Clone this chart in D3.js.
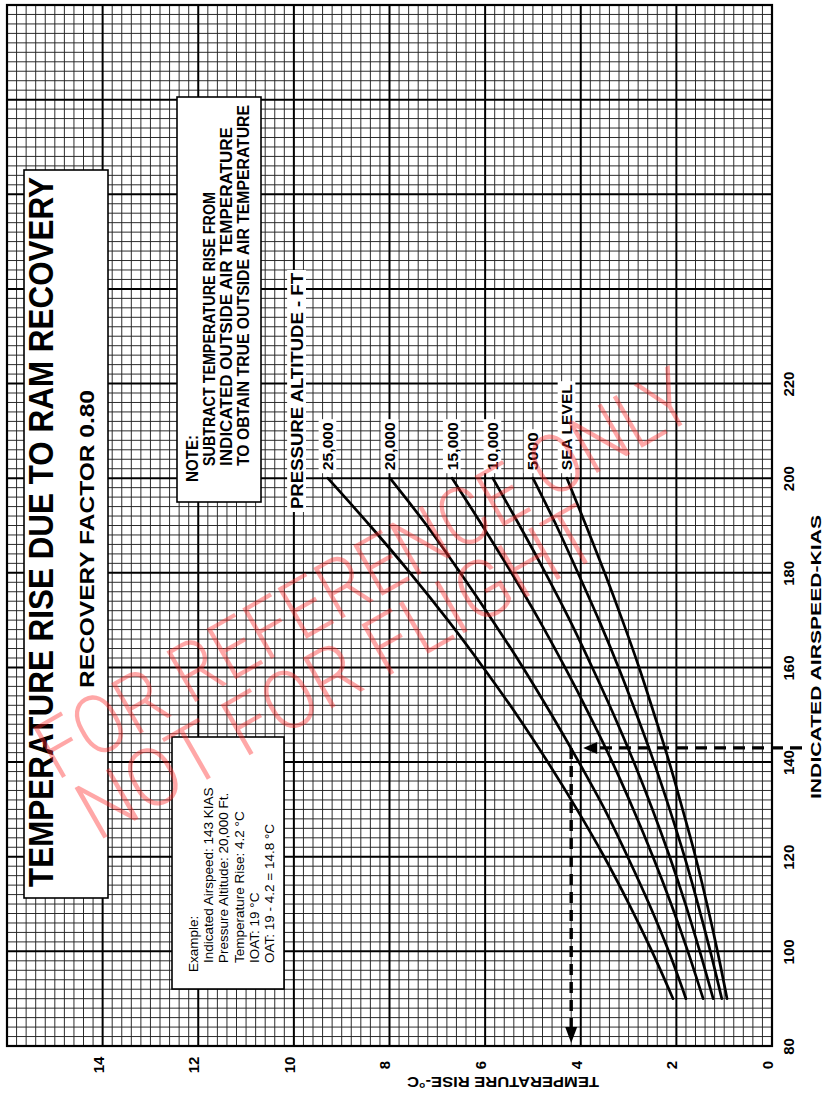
<!DOCTYPE html>
<html>
<head>
<meta charset="utf-8">
<script src="https://cdn.jsdelivr.net/npm/d3@7"></script>
<style>
  html, body { margin: 0; padding: 0; background: #fff; }
  svg { display: block; }
</style>
</head>
<body>
<svg id="chart" width="830" height="1097"></svg>
<script>
// Indicated airspeed stations (knots) at which the curves are tabulated
const airspeedKias = [90, 100, 110, 120, 130, 140, 150, 160, 170, 180, 190, 200];

// Temperature rise (°C) at each station, one list per pressure altitude
const riseSeaLevel = [0.94, 1.14, 1.36, 1.60, 1.87, 2.15, 2.46, 2.78, 3.13, 3.50, 3.89, 4.29];
const rise5000     = [1.05, 1.29, 1.55, 1.83, 2.14, 2.47, 2.83, 3.21, 3.62, 4.06, 4.51, 5.00];
const rise10000    = [1.23, 1.51, 1.81, 2.14, 2.50, 2.89, 3.31, 3.76, 4.23, 4.74, 5.28, 5.84];
const rise15000    = [1.44, 1.76, 2.11, 2.49, 2.90, 3.34, 3.82, 4.33, 4.87, 5.45, 6.06, 6.69];
const rise20000    = [1.80, 2.16, 2.57, 3.02, 3.50, 4.04, 4.61, 5.21, 5.85, 6.52, 7.22, 7.99];
const rise25000    = [2.07, 2.51, 2.99, 3.51, 4.08, 4.69, 5.34, 6.04, 6.78, 7.57, 8.41, 9.29];
const altitudeLabels = ["SEA LEVEL", "5000", "10,000", "15,000", "20,000", "25,000"];

// Axis ticks
const tempTicks  = [0, 2, 4, 6, 8, 10, 12, 14];
const speedTicks = [80, 100, 120, 140, 160, 180, 200, 220];

// Worked example
const exampleSpeed = 143;
const exampleRise  = 4.2;
const exampleLines = [
  "Example:",
  "Indicated Airspeed: 143 KIAS",
  "Pressure Altitude: 20,000 Ft.",
  "Temperature Rise: 4.2 °C",
  "IOAT: 19 °C",
  "OAT: 19 - 4.2 = 14.8 °C"
];
const noteLines = [
  "NOTE:",
  "SUBTRACT TEMPERATURE RISE FROM",
  "INDICATED OUTSIDE AIR TEMPERATURE",
  "TO OBTAIN TRUE OUTSIDE AIR TEMPERATURE"
];

const seriesList = [riseSeaLevel, rise5000, rise10000, rise15000, rise20000, rise25000];

const svg = d3.select("#chart");
const BOLD = "'Liberation Sans', Arial, Helvetica, sans-serif";
const SANS = "'Liberation Sans', Arial, Helvetica, sans-serif";

// Temperature rise runs right-to-left along the bottom; airspeed runs upward on the right
const x = d3.scaleLinear().domain([0, 16]).range([772, 7]);
const y = d3.scaleLinear().domain([80, 300]).range([1046, 5]);

svg.append("rect").attr("width", 830).attr("height", 1097).attr("fill", "#fff");

// ---- graph-paper grid ----
const grid = svg.append("g");
const tempLines = d3.range(0, 81).map(i => ({ v: i / 5, major: i % 10 === 0 }));
const speedLines = d3.range(0, 111).map(i => ({ v: 80 + 2 * i, major: i % 10 === 0 }));

function drawGrid(major) {
  grid.selectAll(null).data(tempLines.filter(d => d.major === major)).join("line")
    .attr("x1", d => x(d.v)).attr("x2", d => x(d.v))
    .attr("y1", y(80)).attr("y2", y(300))
    .attr("stroke", major ? "#000" : "#222")
    .attr("stroke-width", major ? 2 : 0.95);
  grid.selectAll(null).data(speedLines.filter(d => d.major === major)).join("line")
    .attr("y1", d => y(d.v)).attr("y2", d => y(d.v))
    .attr("x1", x(16)).attr("x2", x(0))
    .attr("stroke", major ? "#000" : "#222")
    .attr("stroke-width", major ? 2 : 0.95);
}
drawGrid(false);
drawGrid(true);

svg.append("rect")
  .attr("x", x(16)).attr("y", y(300))
  .attr("width", x(0) - x(16)).attr("height", y(80) - y(300))
  .attr("fill", "none").attr("stroke", "#000").attr("stroke-width", 2.2);

// ---- helper for text written up the page ----
function upText(parent, bx, sy, str, o) {
  const t = parent.append("text")
    .attr("transform", `translate(${bx},${sy}) rotate(-90)`)
    .attr("text-anchor", o.anchor || "start")
    .attr("font-family", o.family || BOLD)
    .attr("font-weight", o.weight || "bold")
    .attr("font-size", o.size)
    .attr("fill", "#000")
    .text(str);
  if (o.len) t.attr("textLength", o.len).attr("lengthAdjust", "spacingAndGlyphs");
  return t;
}

// ---- axes ----
const bottomAxis = svg.append("g")
  .attr("transform", `translate(0,${y(80)})`)
  .call(d3.axisBottom(x).tickValues(tempTicks).tickSize(0).tickFormat(d3.format("d")));
bottomAxis.select(".domain").remove();
bottomAxis.selectAll("text")
  .attr("x", 0).attr("y", 0).attr("dy", "0.36em")
  .attr("transform", "translate(-5,19) rotate(-90)")
  .attr("text-anchor", "middle")
  .attr("font-family", BOLD).attr("font-weight", "bold").attr("font-size", 15).attr("fill", "#000");

const rightAxis = svg.append("g")
  .attr("transform", `translate(${x(0)},0)`)
  .call(d3.axisRight(y).tickValues(speedTicks).tickSize(0).tickFormat(d3.format("d")));
rightAxis.select(".domain").remove();
rightAxis.selectAll("text")
  .attr("x", 0).attr("y", 0).attr("dy", "0.36em")
  .attr("transform", "translate(17,0) rotate(-90)")
  .attr("text-anchor", "middle")
  .attr("font-family", BOLD).attr("font-weight", "bold").attr("font-size", 15).attr("fill", "#000");

// axis titles
svg.append("text")
  .attr("transform", "translate(503,1077) rotate(180)")
  .attr("text-anchor", "middle")
  .attr("font-family", BOLD).attr("font-weight", "bold").attr("font-size", 15)
  .attr("textLength", 192).attr("lengthAdjust", "spacingAndGlyphs")
  .text("TEMPERATURE RISE-°C");
upText(svg, 821, 657, "INDICATED AIRSPEED-KIAS", { size: 15.5, anchor: "middle", len: 284 });

// ---- curves ----
const curveGen = d3.line()
  .x(d => x(d.t)).y(d => y(d.v))
  .curve(d3.curveCatmullRom.alpha(0.5));

const curves = svg.append("g");
seriesList.forEach(vals => {
  const pts = airspeedKias.map((v, i) => ({ v, t: vals[i] }));
  curves.append("path").attr("d", curveGen(pts))
    .attr("fill", "none").attr("stroke", "#000").attr("stroke-width", 2.7)
    .attr("stroke-linecap", "round");
});

// ---- altitude labels at the top of each curve ----
function labelWithBox(parent, bx, sy, str, size, len) {
  const g = parent.append("g");
  const r = g.append("rect").attr("fill", "#fff");
  const t = upText(g, bx, sy, str, { size: size, len: len });
  const w = len || t.node().getComputedTextLength();
  const h = size * 0.78;
  r.attr("x", bx - h - 3).attr("y", sy - w - 3)
   .attr("width", h + 6).attr("height", w + 6);
  return g;
}
const labels = svg.append("g");
const labelLens = [86, 38, 48, 48, 48, 48];
seriesList.forEach((vals, i) => {
  const top = vals[vals.length - 1];
  labelWithBox(labels, x(top) + 5.5, y(200) - 8, altitudeLabels[i], 15, labelLens[i]);
});
labelWithBox(labels, 303, 509, "PRESSURE ALTITUDE - FT", 16.5, 236);

// ---- worked-example dashed path ----
const yEx = y(exampleSpeed), xEx = x(exampleRise);
const dash = svg.append("g").attr("stroke", "#000").attr("stroke-width", 3.4);
dash.append("line")
  .attr("x1", 802).attr("x2", xEx + 22).attr("y1", yEx).attr("y2", yEx)
  .attr("stroke-dasharray", "12,7");
dash.append("path")
  .attr("d", `M${xEx + 12},${yEx} L${xEx + 26},${yEx - 6} L${xEx + 26},${yEx + 6} Z`)
  .attr("fill", "#000").attr("stroke", "none");
dash.append("line")
  .attr("x1", xEx).attr("x2", xEx).attr("y1", yEx).attr("y2", y(80) - 16)
  .attr("stroke-dasharray", "11,7");
dash.append("path")
  .attr("d", `M${xEx},${y(80) - 3} L${xEx - 6},${y(80) - 19} L${xEx + 6},${y(80) - 19} Z`)
  .attr("fill", "#000").attr("stroke", "none");

// ---- title block ----
svg.append("rect").attr("x", 24).attr("y", 170).attr("width", 84).attr("height", 728)
  .attr("fill", "#fff").attr("stroke", "#000").attr("stroke-width", 1.6);
upText(svg, 53, 532, "TEMPERATURE RISE DUE TO RAM RECOVERY", { size: 35, anchor: "middle", len: 710 });
upText(svg, 94, 539, "RECOVERY FACTOR 0.80", { size: 21, anchor: "middle", len: 298 });

// ---- note block ----
svg.append("rect").attr("x", 177).attr("y", 97).attr("width", 84).attr("height", 405)
  .attr("fill", "#fff").attr("stroke", "#000").attr("stroke-width", 1.6);
const noteBase = [198, 214.5, 231.5, 248.5];
const noteLen = [47, 274, 339, 361];
noteLines.forEach((s, i) => {
  upText(svg, noteBase[i], i === 0 ? 482 : 466, s, { size: 16.5, len: noteLen[i] });
});

// ---- example block ----
svg.append("rect").attr("x", 172).attr("y", 737).attr("width", 112).attr("height", 252)
  .attr("fill", "#fff").attr("stroke", "#000").attr("stroke-width", 1.6);
exampleLines.forEach((s, i) => {
  upText(svg, 198 + i * 15.2, i === 0 ? 972 : 963, s, { size: 13.5, family: SANS, weight: "normal" });
});

// ---- watermark ----
const wm = svg.append("g")
  .attr("transform", "translate(378,598) rotate(-29.7)")
  .attr("fill", "rgba(255,45,45,0.42)")
  .attr("font-family", "Roboto, 'Liberation Sans', Arial, sans-serif")
  .attr("font-weight", 300)
  .attr("font-size", 82)
  .attr("text-anchor", "middle");
wm.append("text").attr("x", 0).attr("y", 0)
  .attr("textLength", 740).attr("lengthAdjust", "spacingAndGlyphs")
  .text("FOR REFERENCE ONLY");
wm.append("text").attr("x", -72).attr("y", 73)
  .attr("textLength", 585).attr("lengthAdjust", "spacingAndGlyphs")
  .text("NOT FOR FLIGHT");
</script>
</body>
</html>
